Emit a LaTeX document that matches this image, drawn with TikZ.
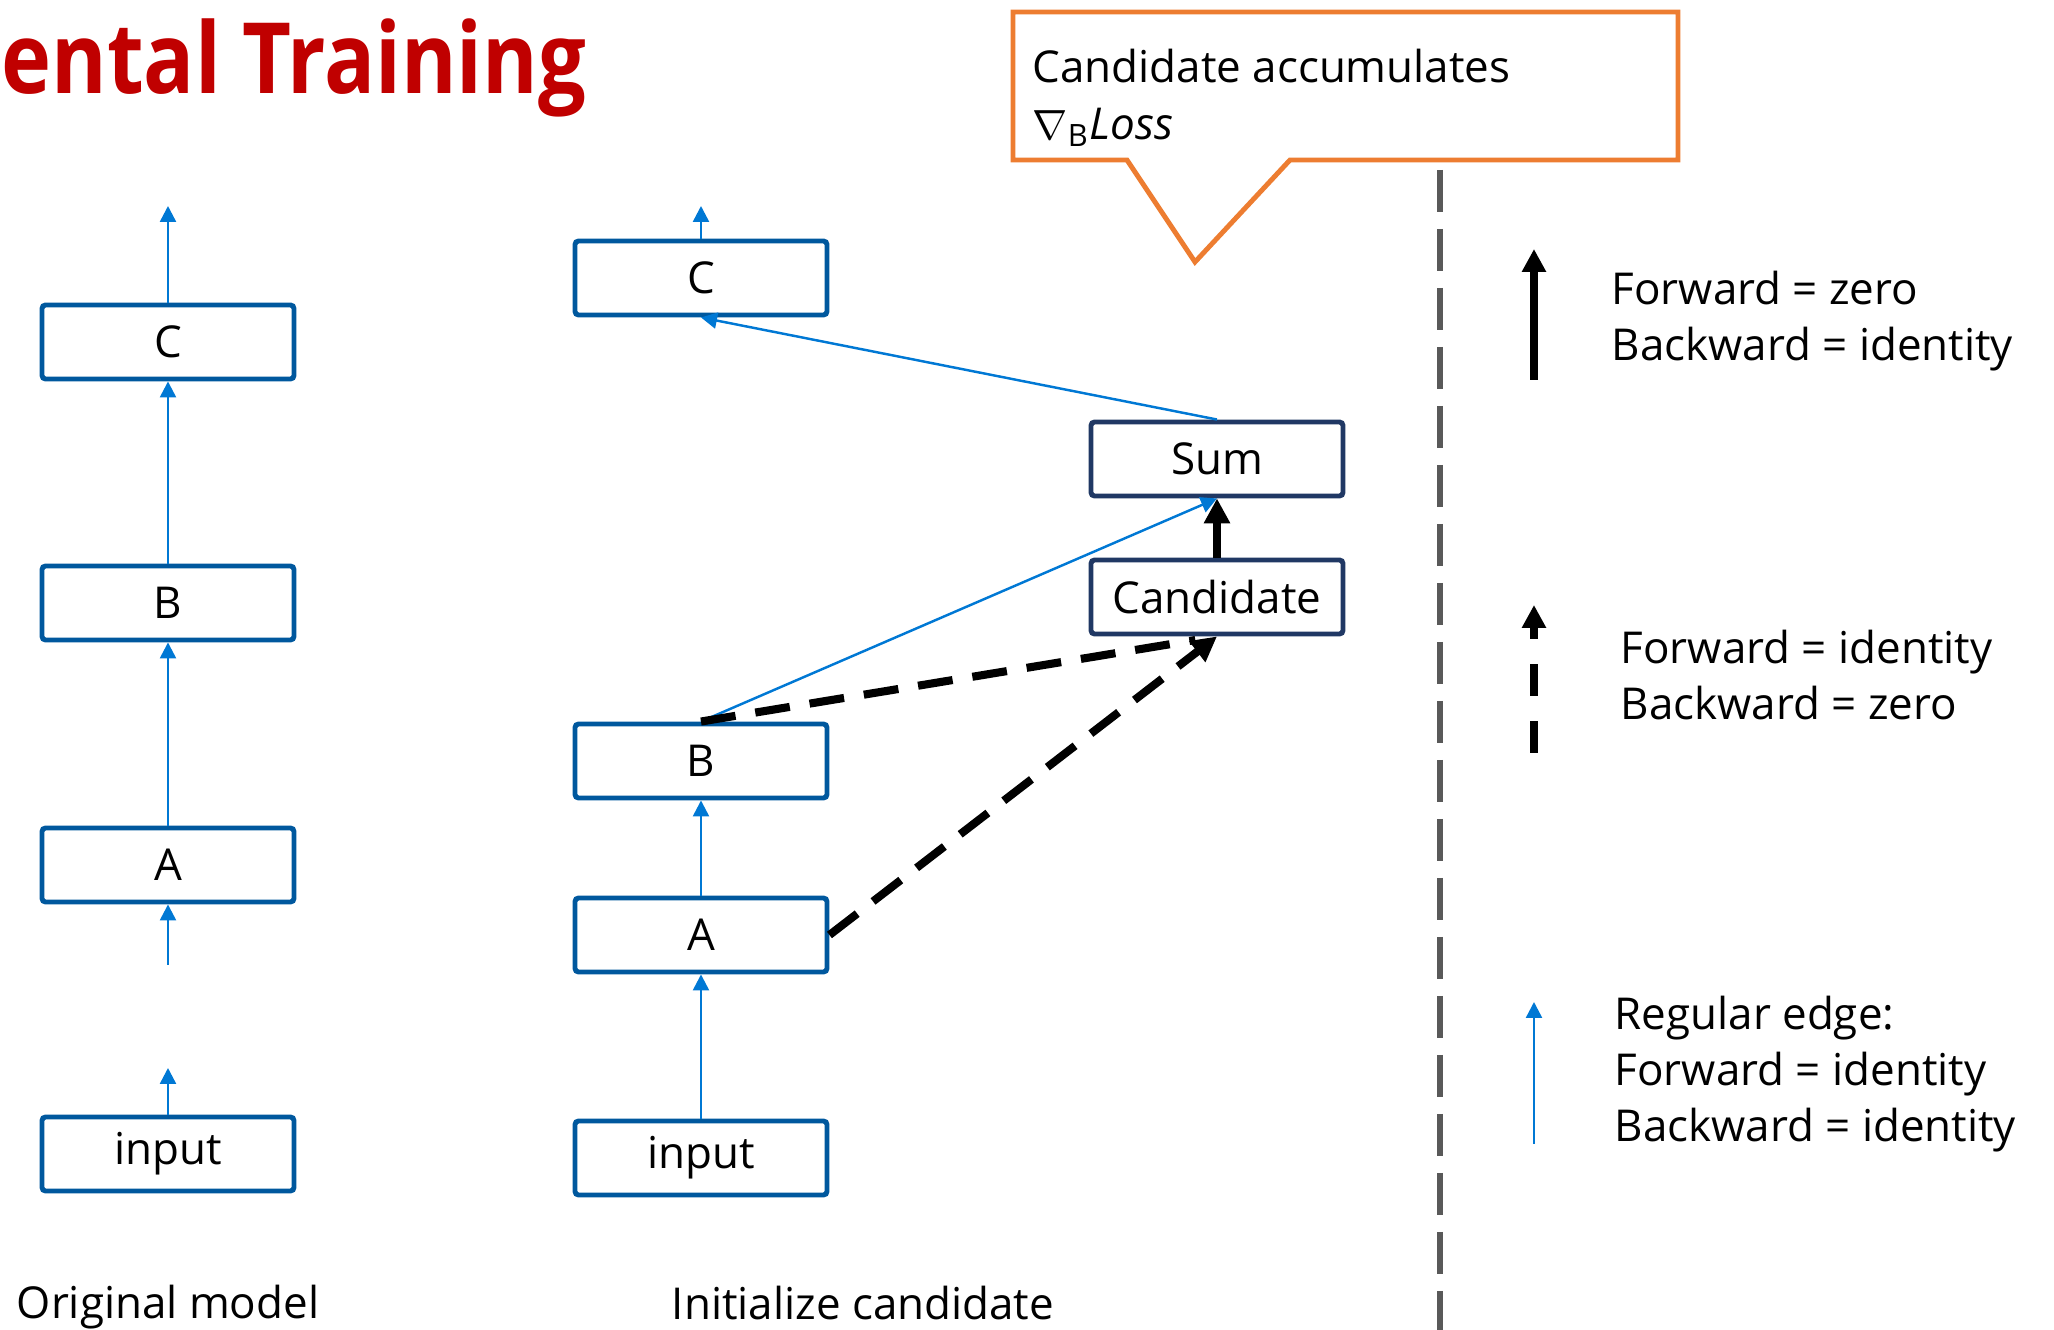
\documentclass[tikz,border=0pt]{standalone}
\usepackage{fontspec}
\usepackage{graphicx}
\setmainfont{Open Sans}
\usetikzlibrary{arrows.meta}
\definecolor{boxblue}{RGB}{0,88,158}
\definecolor{edgeblue}{RGB}{0,120,212}
\definecolor{candnavy}{RGB}{32,56,100}
\definecolor{noteorange}{RGB}{237,125,49}
\definecolor{splitgray}{RGB}{89,89,89}
\definecolor{titlered}{RGB}{192,0,0}

\begin{document}
\begin{tikzpicture}[>=Triangle, font=\fontsize{12.5}{16}\selectfont,
    layer/.style={
        draw=boxblue, line width=1.4pt, fill=white, rounded corners=1pt,
        minimum width=2.52cm, minimum height=0.74cm, inner sep=0pt
    },
    layer_new/.style={layer, draw=candnavy},
    regular/.style={-{Triangle[length=0.16cm, width=0.16cm]}, edgeblue, line width=0.7pt},
    fwd_zero/.style={-{Triangle[length=0.25cm, width=0.25cm]}, black, line width=2.3pt},
    bwd_zero/.style={black, line width=2.3pt, dash pattern=on 0.35cm off 0.2cm},
    split/.style={splitgray, line width=1.6pt, dash pattern=on 0.42cm off 0.17cm},
    note/.style={draw=noteorange, line width=1.4pt, fill=white, line join=miter},
    legend/.style={anchor=west, align=left, inner sep=0pt},
    caption/.style={anchor=base, inner sep=0pt},
]

\useasboundingbox (0,0) rectangle (20.54,13.30);
\clip (0,0) rectangle (20.54,13.30);

% --- Coordenadas ---
\def\xorig{1.68}
\def\xinit{7.01}
\def\xcand{12.17}
\def\xsplit{14.40}
\def\xkey{15.34}

% --- Titulo ---
\node[anchor=base east, inner sep=0pt, text=titlered,
      font=\fontsize{28}{32}\selectfont\bfseries] (title) at (5.87,12.36)
    {\scalebox{0.86}[1]{Incremental Training}};

% --- Modelo original ---
\node[layer] (oin) at (\xorig, 1.76) {input};
\node[layer] (oA)  at (\xorig, 4.65) {A};
\node[layer] (oB)  at (\xorig, 7.27) {B};
\node[layer] (oC)  at (\xorig, 9.88) {C};

\coordinate (oin_top) at (\xorig, 2.62);
\coordinate (oA_low)  at (\xorig, 3.65);
\coordinate (oC_top)  at (\xorig, 11.24);

\draw[regular] (oin.north) -- (oin_top);
\draw[regular] (oA_low) -- (oA.south);
\draw[regular] (oA.north) -- (oB.south);
\draw[regular] (oB.north) -- (oC.south);
\draw[regular] (oC.north) -- (oC_top);

\node[caption] (cap_orig) at (\xorig, 0.11) {Original model};

% --- Modelo con candidato ---
\node[layer] (nin) at (\xinit, 1.72) {input};
\node[layer] (nA)  at (\xinit, 3.95) {A};
\node[layer] (nB)  at (\xinit, 5.69) {B};
\node[layer] (nC)  at (\xinit, 10.52) {C};

\node[layer_new] (cand) at (\xcand, 7.33) {Candidate};
\node[layer_new] (sum)  at (\xcand, 8.71) {Sum};

\coordinate (nC_top) at (\xinit, 11.24);

\draw[regular] (nin.north) -- (nA.south);
\draw[regular] (nA.north) -- (nB.south);
\draw[regular] (nB.north) -- (sum.south);
\draw[regular] (sum.north) -- (nC.south);
\draw[regular] (nC.north) -- (nC_top);

\draw[fwd_zero] (cand.north) -- (sum.south);
\draw[bwd_zero, shorten >=0.22cm] (nB.north) -- (cand.south);
\draw[bwd_zero, -{Triangle[length=0.25cm, width=0.25cm]}] (nA.east) -- (cand.south);

\node[caption] (cap_init) at (8.63, 0.10) {Initialize candidate};

% --- Nota ---
\draw[note] (10.13,13.18) -- (16.78,13.18) -- (16.78,11.70) -- (12.90,11.70)
    -- (11.95,10.68) -- (11.27,11.70) -- (10.13,11.70) -- cycle;
\node[legend] (note_txt) at (10.32, 12.32)
    {Candidate accumulates\\$\nabla_{\mathrm{B}}\mathit{Loss}$};

% --- Separador ---
\coordinate (split_top) at (\xsplit, 11.60);
\coordinate (split_bot) at (\xsplit, 0);
\draw[split] (split_top) -- (split_bot);

% --- Leyenda ---
\coordinate (k1a) at (\xkey, 9.50);
\coordinate (k1b) at (\xkey, 10.81);
\draw[fwd_zero, -{Triangle[length=0.23cm, width=0.23cm]}] (k1a) -- (k1b);
\node[legend] (key1) at (16.11, 10.09) {Forward = zero\\Backward = identity};

\coordinate (k2a) at (\xkey, 5.77);
\coordinate (k2b) at (\xkey, 7.25);
\draw[black, line width=2.3pt, dash pattern=on 0.32cm off 0.25cm,
      -{Triangle[length=0.23cm, width=0.23cm]}] (k2a) -- (k2b);
\node[legend] (key2) at (16.20, 6.55) {Forward = identity\\Backward = zero};

\coordinate (k3a) at (\xkey, 1.86);
\coordinate (k3b) at (\xkey, 3.28);
\draw[regular] (k3a) -- (k3b);
\node[legend] (key3) at (16.14, 2.56) {Regular edge:\\Forward = identity\\Backward = identity};

\end{tikzpicture}
\end{document}
